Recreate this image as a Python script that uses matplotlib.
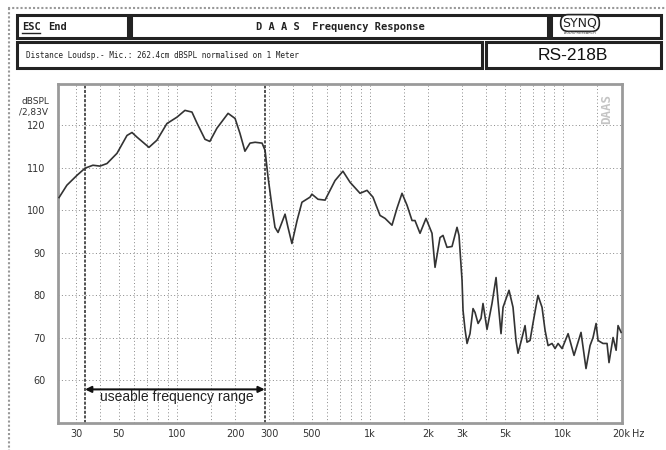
import matplotlib
matplotlib.use("Agg")
import matplotlib.pyplot as plt
from matplotlib.lines import Line2D
from matplotlib.patches import Rectangle
from matplotlib.ticker import NullLocator

# Frequency response (Hz, dBSPL)
freq = [24.5, 26.9, 30.3, 33.4, 36.7, 39.9, 43.4, 48.9, 55.1, 58.5, 62.1, 66.7,
        71.6, 78.8, 88.7, 100, 110, 119.6, 127, 139.7, 148, 161, 184, 200, 212,
        225, 239, 254, 276, 286, 296, 311, 322, 334, 350, 363, 376, 394, 419,
        444, 489, 500, 538, 585, 659, 724, 788, 888, 965, 1036, 1127, 1197,
        1300, 1380, 1465, 1555, 1651, 1710, 1816, 1950, 2095, 2172, 2305, 2389,
        2505, 2660, 2823, 2891, 2998, 3033, 3106, 3182, 3296, 3417, 3500, 3630,
        3760, 3849, 4037, 4285, 4497, 4602, 4772, 4888, 5250, 5506, 5705, 5845,
        6134, 6355, 6506, 6745, 6995, 7413, 7783, 8068, 8364, 8770, 9092, 9425,
        9885, 10620, 11400, 12390, 13150, 13800, 14300, 14830, 15180, 16100,
        16900, 17300, 18160, 18830, 19270, 19990]
spl = [103.0, 105.9, 108.2, 109.9, 110.6, 110.4, 111.0, 113.4, 117.6, 118.3,
       117.2, 116.0, 114.8, 116.5, 120.4, 121.9, 123.5, 123.1, 120.5, 116.7,
       116.2, 119.3, 122.8, 121.6, 118.1, 113.9, 115.8, 116.0, 115.8, 114.1,
       108.0, 100.7, 96.0, 94.8, 97.2, 99.1, 96.0, 92.2, 97.6, 101.9, 103.1,
       103.8, 102.6, 102.4, 107.0, 109.2, 106.6, 104.0, 104.7, 103.1, 98.8,
       98.1, 96.5, 100.5, 104.0, 101.2, 97.6, 97.6, 94.6, 98.1, 94.6, 86.6,
       93.6, 94.1, 91.3, 91.5, 96.0, 94.1, 83.5, 76.5, 72.0, 68.7, 71.0, 76.9,
       76.0, 73.4, 74.6, 78.1, 72.0, 78.1, 84.2, 78.8, 71.0, 77.2, 81.2, 77.2,
       69.4, 66.4, 70.1, 72.9, 69.0, 69.4, 73.6, 80.0, 77.2, 71.8, 68.2, 68.7,
       67.5, 68.7, 67.5, 71.0, 65.9, 71.3, 62.8, 68.2, 70.1, 73.4, 69.4, 68.7,
       68.7, 64.2, 70.1, 67.1, 72.9, 71.3]

x_ticks = [30, 50, 100, 200, 300, 500, 1000, 2000, 3000, 5000, 10000, 20000]
x_labels = ["30", "50", "100", "200", "300", "500", "1k", "2k", "3k", "5k", "10k", "20k"]
y_ticks = [60, 70, 80, 90, 100, 110, 120]

USEABLE_LO = 33.4
USEABLE_HI = 285

W, H = 666, 450


def fx(x):
    return x / W


def fy(y):
    return 1 - y / H


fig = plt.figure(figsize=(6.66, 4.5), dpi=100)
fig.patch.set_facecolor("white")

# outer dotted frame
fig.add_artist(Line2D([fx(8), 1], [fy(8), fy(8)], color="#999", lw=1.5, ls=(0, (1, 1))))
fig.add_artist(Line2D([fx(9), fx(9)], [fy(8), 0], color="#999", lw=1.5, ls=(0, (1, 1))))

# header boxes
boxes = [(17, 15, 128, 38), (131, 15, 548, 38), (551, 15, 661, 38),
         (17, 42, 482, 68), (486, 42, 661, 68)]
for x0, y0, x1, y1 in boxes:
    fig.add_artist(Rectangle((fx(x0), fy(y1)), fx(x1) - fx(x0), fy(y0) - fy(y1),
                             fill=False, ec="#222", lw=2.2))

mono = "DejaVu Sans Mono"
fig.text(fx(22), fy(26.5), "ESC", family=mono, weight="bold", fontsize=7.5,
         va="center", color="#222")
fig.add_artist(Line2D([fx(22), fx(40)], [fy(33), fy(33)], color="#222", lw=1))
fig.text(fx(48), fy(26.5), "End", family=mono, weight="bold", fontsize=7.5,
         va="center", color="#222")
fig.text(fx(340), fy(26.5), "D A A S  Frequency Response", family=mono,
         weight="bold", fontsize=7.5, ha="center", va="center", color="#222")
fig.text(fx(580), fy(23), "SYNQ", family="DejaVu Sans", fontsize=9,
         ha="center", va="center", color="#222",
         bbox=dict(boxstyle="round,pad=0.15,rounding_size=0.6", fc="white",
                   ec="#222", lw=1.2))
fig.text(fx(580), fy(33.5), "AUDIO RESEARCH", fontsize=2.5, ha="center",
         va="center", color="#444")
fig.text(fx(26), fy(56), "Distance Loudsp.- Mic.: 262.4cm dBSPL normalised on 1 Meter",
         family=mono, fontsize=5.6, va="center", color="#222")
fig.text(fx(573), fy(55.5), "RS-218B", family="Liberation Sans", fontsize=12.5,
         ha="center", va="center", color="#111")

# plot area
ax = fig.add_axes([fx(58), fy(423), fx(622) - fx(58), fy(84) - fy(423)])
ax.set_xscale("log")
ax.set_xlim(24.2, 20200)
ax.set_ylim(50, 129.7)

grid_x = []
for dec in [10, 100, 1000, 10000]:
    for m in [1, 1.5, 2, 3, 4, 5, 6, 7, 8, 9]:
        f = dec * m
        if 24.2 < f < 20000:
            grid_x.append(f)
for f in grid_x:
    ax.axvline(f, color="#888", lw=0.7, ls=(0, (1, 2.5)), zorder=1)
for v in y_ticks:
    ax.axhline(v, color="#888", lw=0.7, ls=(0, (1, 2.5)), zorder=1)

# useable range markers
for f in [USEABLE_LO, USEABLE_HI]:
    ax.axvline(f, color="#222", lw=1.1, ls=(0, (2, 1)), zorder=2)

ax.plot(freq, spl, color="#333", lw=1.2, zorder=3)

ax.annotate("", xy=(USEABLE_HI, 57.9), xytext=(USEABLE_LO, 57.9),
            arrowprops=dict(arrowstyle="<|-|>", color="#111", lw=1.5,
                            mutation_scale=9, shrinkA=0, shrinkB=0))
ax.text(100, 56, "useable frequency range", family="Liberation Sans",
        fontsize=10, ha="center", va="center", color="#222")

ax.text(0.985, 0.97, "DAAS", transform=ax.transAxes, rotation=90, family=mono,
        weight="bold", fontsize=9, color="#c4c4c4", ha="right", va="top")

ax.set_xticks(x_ticks)
ax.set_xticklabels(x_labels)
ax.xaxis.set_minor_locator(NullLocator())
ax.set_yticks(y_ticks)
ax.tick_params(axis="both", length=0, labelsize=7, colors="#333")
ax.tick_params(axis="y", pad=9)
ax.tick_params(axis="x", pad=4)
ax.annotate("Hz", xy=(1, 0), xycoords="axes fraction", xytext=(7, -4),
            textcoords="offset points", fontsize=7, color="#333", va="top")

for s in ax.spines.values():
    s.set_color("#9a9a9a")
    s.set_linewidth(2)

fig.text(fx(22), fy(102), "dBSPL", fontsize=6.5, color="#333", va="center")
fig.text(fx(19), fy(112), "/2,83V", fontsize=6.5, color="#333", va="center")

fig.savefig("out.png", dpi=100)
